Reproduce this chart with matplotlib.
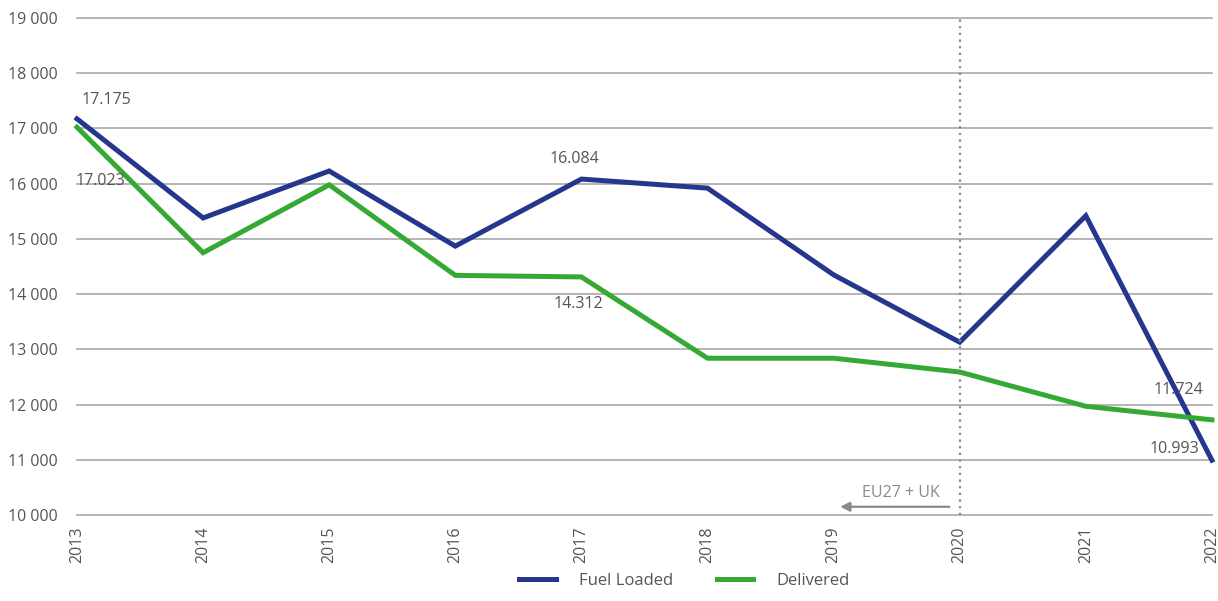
import matplotlib.pyplot as plt
import numpy as np

plt.rcParams['font.family'] = ['Open Sans', 'DejaVu Sans']

years = [2013, 2014, 2015, 2016, 2017, 2018, 2019, 2020, 2021, 2022]
fuel_loaded = [17175, 15380, 16230, 14870, 16084, 15920, 14350, 13130, 15420, 10993]
delivered = [17023, 14750, 15980, 14340, 14312, 12840, 12840, 12590, 11970, 11724]
y_ticks = [10000, 11000, 12000, 13000, 14000, 15000, 16000, 17000, 18000, 19000]

blue = '#24378c'
green = '#36a935'
txt = '#555555'

fig = plt.figure(figsize=(12.18, 6.01), dpi=100)
ax = fig.add_axes([0.0632, 0.143, 0.9318, 0.827])

x = np.arange(len(years))
ax.plot(x, fuel_loaded, color=blue, lw=3.6, label='Fuel Loaded', solid_joinstyle='miter', clip_on=False)
ax.plot(x, delivered, color=green, lw=3.6, label='Delivered', solid_joinstyle='miter', clip_on=False)

ax.set_xlim(0, len(years) - 1)
ax.set_ylim(10000, 19000)
ax.set_yticks(y_ticks)
ax.set_yticklabels(['{:,}'.format(v).replace(',', ' ') for v in y_ticks])
ax.set_xticks(x)
ax.set_xticklabels([str(y) for y in years], rotation=90)
for v in y_ticks:
    ax.axhline(v, color='#a0a0a0', lw=1.1, zorder=0, clip_on=False)
for s in ax.spines.values():
    s.set_visible(False)
ax.tick_params(length=0, labelsize=11.5, colors=txt)
ax.tick_params(axis='y', pad=14)
ax.tick_params(axis='x', pad=8)

# value labels
def fmt(v):
    return '{:.3f}'.format(v / 1000)

fs = 11.5
ax.annotate(fmt(fuel_loaded[0]), (x[0], fuel_loaded[0]), xytext=(3, 8), textcoords='offset points',
            ha='left', va='bottom', fontsize=fs, color=txt)
ax.annotate(fmt(delivered[0]), (x[0], delivered[0]), xytext=(-1, -33), textcoords='offset points',
            ha='left', va='top', fontsize=fs, color=txt)
ax.annotate(fmt(fuel_loaded[4]), (x[4], fuel_loaded[4]), xytext=(-5, 9), textcoords='offset points',
            ha='center', va='bottom', fontsize=fs, color=txt)
ax.annotate(fmt(delivered[4]), (x[4], delivered[4]), xytext=(-2, -14), textcoords='offset points',
            ha='center', va='top', fontsize=fs, color=txt)
ax.annotate(fmt(delivered[9]), (x[9], delivered[9]), xytext=(-6, 16), textcoords='offset points',
            ha='right', va='bottom', fontsize=fs, color=txt)
ax.annotate(fmt(fuel_loaded[9]), (x[9], fuel_loaded[9]), xytext=(-9, 2), textcoords='offset points',
            ha='right', va='bottom', fontsize=fs, color=txt)

# EU27 + UK marker
ax.axvline(x[7], color='#888888', lw=1.6, ls=(0, (1, 2)))
ax.annotate('', xy=(x[6] + 0.03, 10150), xytext=(x[7] - 0.06, 10150),
            arrowprops=dict(arrowstyle='-|>', color='#8a8a8a', lw=1.6, mutation_scale=14))
ax.text(x[7] - 0.16, 10250, 'EU27 + UK', ha='right', va='bottom', fontsize=11.5, color='#8a8a8a')

leg = fig.legend(loc='lower center', bbox_to_anchor=(0.562, -0.005), ncol=2, frameon=False,
                 fontsize=12, handlelength=2.2, columnspacing=2.6, handletextpad=1.4)
for t in leg.get_texts():
    t.set_color(txt)

fig.savefig('out.png', dpi=100)
